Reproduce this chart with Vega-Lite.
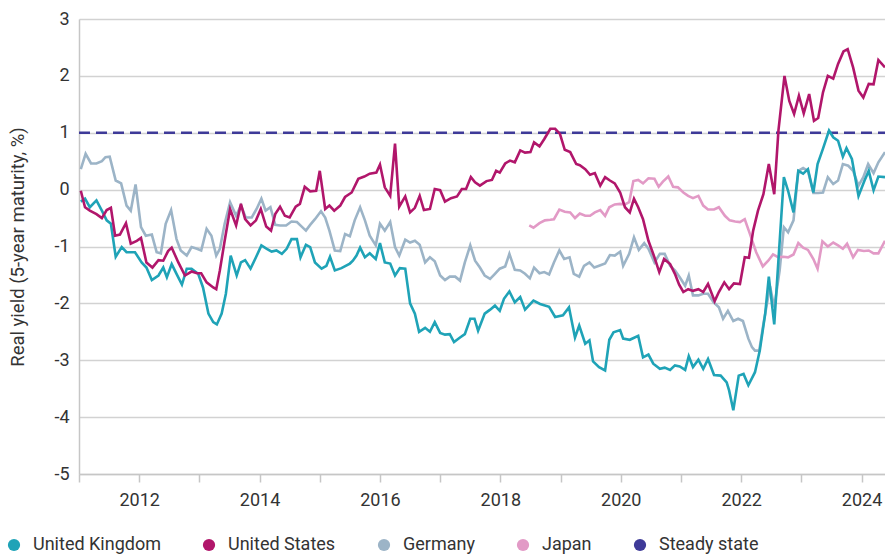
{
"$schema": "https://vega.github.io/schema/vega-lite/v6.json",
"width": 806, "height": 455,
"autosize": {"type": "none"},
"padding": {"left": 79, "top": 19, "right": 0, "bottom": 83},
"background": "white",
"config": {"font": "Roboto", "view": {"stroke": null}},
"datasets": {
"uk": [
{"t":2011.03,"v":-0.21},{"t":2011.10,"v":-0.16},{"t":2011.18,"v":-0.31},{"t":2011.29,"v":-0.19},{"t":2011.38,"v":-0.37},{"t":2011.46,"v":-0.54},{"t":2011.53,"v":-0.60},{"t":2011.61,"v":-1.18},{"t":2011.71,"v":-1.01},{"t":2011.79,"v":-1.10},{"t":2011.93,"v":-1.10},
{"t":2012.04,"v":-1.28},{"t":2012.12,"v":-1.37},{"t":2012.21,"v":-1.59},{"t":2012.32,"v":-1.51},{"t":2012.40,"v":-1.37},{"t":2012.46,"v":-1.54},{"t":2012.54,"v":-1.31},{"t":2012.62,"v":-1.48},{"t":2012.71,"v":-1.67},{"t":2012.79,"v":-1.39},{"t":2012.87,"v":-1.39},{"t":2012.98,"v":-1.48},
{"t":2013.06,"v":-1.72},{"t":2013.15,"v":-2.18},{"t":2013.23,"v":-2.33},{"t":2013.29,"v":-2.37},{"t":2013.37,"v":-2.18},{"t":2013.44,"v":-1.83},{"t":2013.52,"v":-1.16},{"t":2013.62,"v":-1.51},{"t":2013.69,"v":-1.28},{"t":2013.76,"v":-1.24},{"t":2013.85,"v":-1.39},{"t":2013.94,"v":-1.19},
{"t":2014.03,"v":-0.98},{"t":2014.12,"v":-1.04},{"t":2014.20,"v":-1.09},{"t":2014.28,"v":-1.07},{"t":2014.37,"v":-1.13},{"t":2014.45,"v":-1.04},{"t":2014.53,"v":-0.87},{"t":2014.62,"v":-0.87},{"t":2014.68,"v":-1.19},{"t":2014.77,"v":-0.97},{"t":2014.84,"v":-1.01},{"t":2014.92,"v":-1.28},
{"t":2015.03,"v":-1.39},{"t":2015.11,"v":-1.34},{"t":2015.17,"v":-1.18},{"t":2015.25,"v":-1.42},{"t":2015.36,"v":-1.38},{"t":2015.50,"v":-1.30},{"t":2015.55,"v":-1.25},{"t":2015.61,"v":-1.16},{"t":2015.67,"v":-1.02},{"t":2015.75,"v":-1.19},{"t":2015.83,"v":-1.12},{"t":2015.93,"v":-1.22},
{"t":2016.00,"v":-0.94},{"t":2016.08,"v":-1.28},{"t":2016.17,"v":-1.30},{"t":2016.25,"v":-1.51},{"t":2016.33,"v":-1.38},{"t":2016.42,"v":-1.39},{"t":2016.50,"v":-2.00},{"t":2016.58,"v":-2.18},{"t":2016.65,"v":-2.50},{"t":2016.75,"v":-2.43},{"t":2016.83,"v":-2.50},{"t":2016.91,"v":-2.33},
{"t":2017.00,"v":-2.52},{"t":2017.08,"v":-2.55},{"t":2017.16,"v":-2.54},{"t":2017.23,"v":-2.68},{"t":2017.33,"v":-2.60},{"t":2017.41,"v":-2.54},{"t":2017.50,"v":-2.27},{"t":2017.57,"v":-2.27},{"t":2017.63,"v":-2.48},{"t":2017.74,"v":-2.18},{"t":2017.83,"v":-2.11},{"t":2017.91,"v":-2.04},{"t":2017.99,"v":-2.13},
{"t":2018.06,"v":-1.92},{"t":2018.15,"v":-1.79},{"t":2018.24,"v":-1.98},{"t":2018.33,"v":-1.89},{"t":2018.41,"v":-2.11},{"t":2018.55,"v":-1.95},{"t":2018.66,"v":-2.01},{"t":2018.81,"v":-2.06},{"t":2018.91,"v":-2.24},
{"t":2019.04,"v":-2.21},{"t":2019.14,"v":-2.07},{"t":2019.24,"v":-2.60},{"t":2019.31,"v":-2.39},{"t":2019.41,"v":-2.71},{"t":2019.48,"v":-2.65},{"t":2019.54,"v":-3.02},{"t":2019.64,"v":-3.12},{"t":2019.74,"v":-3.18},{"t":2019.81,"v":-2.64},{"t":2019.88,"v":-2.51},{"t":2019.99,"v":-2.47},
{"t":2020.04,"v":-2.62},{"t":2020.15,"v":-2.64},{"t":2020.29,"v":-2.57},{"t":2020.37,"v":-2.95},{"t":2020.46,"v":-2.90},{"t":2020.54,"v":-3.06},{"t":2020.65,"v":-3.15},{"t":2020.73,"v":-3.13},{"t":2020.82,"v":-3.17},{"t":2020.90,"v":-3.09},{"t":2020.98,"v":-3.11},
{"t":2021.07,"v":-3.17},{"t":2021.13,"v":-2.93},{"t":2021.20,"v":-3.12},{"t":2021.29,"v":-2.99},{"t":2021.37,"v":-3.15},{"t":2021.45,"v":-2.98},{"t":2021.55,"v":-3.26},{"t":2021.66,"v":-3.27},{"t":2021.76,"v":-3.39},{"t":2021.80,"v":-3.53},{"t":2021.87,"v":-3.88},{"t":2021.96,"v":-3.27},
{"t":2022.04,"v":-3.24},{"t":2022.12,"v":-3.44},{"t":2022.23,"v":-3.21},{"t":2022.31,"v":-2.83},{"t":2022.40,"v":-2.18},{"t":2022.46,"v":-1.53},{"t":2022.55,"v":-2.37},{"t":2022.71,"v":0.22},{"t":2022.78,"v":-0.02},{"t":2022.87,"v":-0.40},{"t":2022.95,"v":0.33},
{"t":2023.03,"v":0.28},{"t":2023.11,"v":0.36},{"t":2023.20,"v":-0.05},{"t":2023.27,"v":0.45},{"t":2023.36,"v":0.72},{"t":2023.46,"v":1.04},{"t":2023.53,"v":0.92},{"t":2023.61,"v":0.86},{"t":2023.69,"v":0.58},{"t":2023.75,"v":0.73},{"t":2023.84,"v":0.54},{"t":2023.95,"v":-0.11},
{"t":2024.05,"v":0.16},{"t":2024.12,"v":0.33},{"t":2024.20,"v":-0.01},{"t":2024.28,"v":0.23},{"t":2024.39,"v":0.22}
],
"us": [
{"t":2011.03,"v":-0.02},{"t":2011.10,"v":-0.31},{"t":2011.18,"v":-0.37},{"t":2011.29,"v":-0.43},{"t":2011.38,"v":-0.50},{"t":2011.46,"v":-0.36},{"t":2011.53,"v":-0.32},{"t":2011.60,"v":-0.81},{"t":2011.68,"v":-0.79},{"t":2011.78,"v":-0.59},{"t":2011.86,"v":-0.95},{"t":2011.96,"v":-0.90},
{"t":2012.03,"v":-0.85},{"t":2012.12,"v":-1.28},{"t":2012.22,"v":-1.37},{"t":2012.32,"v":-1.24},{"t":2012.40,"v":-1.25},{"t":2012.48,"v":-1.08},{"t":2012.54,"v":-1.02},{"t":2012.65,"v":-1.28},{"t":2012.76,"v":-1.51},{"t":2012.87,"v":-1.44},{"t":2012.96,"v":-1.47},
{"t":2013.03,"v":-1.47},{"t":2013.12,"v":-1.63},{"t":2013.23,"v":-1.72},{"t":2013.28,"v":-1.75},{"t":2013.34,"v":-1.42},{"t":2013.42,"v":-0.90},{"t":2013.51,"v":-0.34},{"t":2013.61,"v":-0.63},{"t":2013.69,"v":-0.25},{"t":2013.76,"v":-0.52},{"t":2013.85,"v":-0.63},{"t":2013.94,"v":-0.54},
{"t":2014.02,"v":-0.34},{"t":2014.11,"v":-0.65},{"t":2014.19,"v":-0.72},{"t":2014.26,"v":-0.43},{"t":2014.34,"v":-0.30},{"t":2014.42,"v":-0.46},{"t":2014.50,"v":-0.49},{"t":2014.60,"v":-0.30},{"t":2014.67,"v":-0.25},{"t":2014.75,"v":0.05},{"t":2014.84,"v":-0.03},{"t":2014.94,"v":-0.02},
{"t":2015.00,"v":0.33},{"t":2015.09,"v":-0.34},{"t":2015.16,"v":-0.28},{"t":2015.24,"v":-0.37},{"t":2015.34,"v":-0.28},{"t":2015.42,"v":-0.13},{"t":2015.53,"v":-0.05},{"t":2015.64,"v":0.19},{"t":2015.74,"v":0.23},{"t":2015.83,"v":0.28},{"t":2015.94,"v":0.30},
{"t":2016.00,"v":0.44},{"t":2016.08,"v":0.04},{"t":2016.17,"v":-0.11},{"t":2016.25,"v":0.81},{"t":2016.32,"v":-0.30},{"t":2016.42,"v":-0.12},{"t":2016.50,"v":-0.40},{"t":2016.58,"v":-0.32},{"t":2016.66,"v":-0.11},{"t":2016.73,"v":-0.36},{"t":2016.83,"v":-0.34},{"t":2016.91,"v":0.01},
{"t":2017.00,"v":-0.01},{"t":2017.08,"v":-0.21},{"t":2017.18,"v":-0.15},{"t":2017.28,"v":-0.12},{"t":2017.36,"v":0.01},{"t":2017.43,"v":0.01},{"t":2017.51,"v":0.22},{"t":2017.58,"v":0.13},{"t":2017.66,"v":0.07},{"t":2017.77,"v":0.15},{"t":2017.86,"v":0.17},{"t":2017.93,"v":0.33},{"t":2017.99,"v":0.30},
{"t":2018.08,"v":0.46},{"t":2018.16,"v":0.51},{"t":2018.24,"v":0.48},{"t":2018.33,"v":0.69},{"t":2018.41,"v":0.65},{"t":2018.50,"v":0.66},{"t":2018.56,"v":0.83},{"t":2018.65,"v":0.76},{"t":2018.73,"v":0.89},{"t":2018.83,"v":1.07},{"t":2018.91,"v":1.07},{"t":2018.99,"v":0.98},
{"t":2019.07,"v":0.70},{"t":2019.16,"v":0.66},{"t":2019.26,"v":0.45},{"t":2019.32,"v":0.43},{"t":2019.41,"v":0.36},{"t":2019.49,"v":0.26},{"t":2019.57,"v":0.29},{"t":2019.66,"v":0.07},{"t":2019.74,"v":0.22},{"t":2019.82,"v":0.16},{"t":2019.90,"v":0.11},{"t":2019.99,"v":-0.05},
{"t":2020.07,"v":-0.31},{"t":2020.15,"v":-0.40},{"t":2020.22,"v":-0.16},{"t":2020.29,"v":-0.31},{"t":2020.37,"v":-0.52},{"t":2020.46,"v":-0.90},{"t":2020.56,"v":-1.19},{"t":2020.64,"v":-1.45},{"t":2020.72,"v":-1.22},{"t":2020.82,"v":-1.31},{"t":2020.90,"v":-1.48},{"t":2020.97,"v":-1.67},
{"t":2021.04,"v":-1.80},{"t":2021.12,"v":-1.75},{"t":2021.20,"v":-1.78},{"t":2021.29,"v":-1.75},{"t":2021.37,"v":-1.80},{"t":2021.45,"v":-1.66},{"t":2021.56,"v":-1.96},{"t":2021.63,"v":-1.80},{"t":2021.72,"v":-1.63},{"t":2021.80,"v":-1.75},{"t":2021.88,"v":-1.65},{"t":2021.98,"v":-1.66},
{"t":2022.06,"v":-1.19},{"t":2022.13,"v":-1.20},{"t":2022.20,"v":-0.72},{"t":2022.28,"v":-0.37},{"t":2022.37,"v":-0.08},{"t":2022.46,"v":0.45},{"t":2022.55,"v":-0.08},{"t":2022.62,"v":1.04},{"t":2022.72,"v":2.00},{"t":2022.80,"v":1.56},{"t":2022.88,"v":1.33},{"t":2022.96,"v":1.65},
{"t":2023.04,"v":1.34},{"t":2023.13,"v":1.68},{"t":2023.21,"v":1.21},{"t":2023.28,"v":1.26},{"t":2023.36,"v":1.71},{"t":2023.44,"v":2.00},{"t":2023.53,"v":1.95},{"t":2023.61,"v":2.21},{"t":2023.70,"v":2.43},{"t":2023.77,"v":2.47},{"t":2023.86,"v":2.15},{"t":2023.95,"v":1.74},
{"t":2024.03,"v":1.62},{"t":2024.12,"v":1.86},{"t":2024.20,"v":1.85},{"t":2024.28,"v":2.28},{"t":2024.39,"v":2.15}
],
"de": [
{"t":2011.03,"v":0.36},{"t":2011.11,"v":0.63},{"t":2011.20,"v":0.46},{"t":2011.29,"v":0.46},{"t":2011.38,"v":0.50},{"t":2011.44,"v":0.57},{"t":2011.51,"v":0.58},{"t":2011.61,"v":0.16},{"t":2011.70,"v":0.11},{"t":2011.79,"v":-0.28},{"t":2011.86,"v":-0.37},{"t":2011.94,"v":0.09},
{"t":2012.03,"v":-0.66},{"t":2012.11,"v":-0.81},{"t":2012.21,"v":-0.79},{"t":2012.29,"v":-1.10},{"t":2012.36,"v":-1.12},{"t":2012.44,"v":-0.60},{"t":2012.53,"v":-0.36},{"t":2012.62,"v":-0.87},{"t":2012.69,"v":-1.07},{"t":2012.79,"v":-1.16},{"t":2012.87,"v":-1.01},{"t":2012.96,"v":-1.04},
{"t":2013.03,"v":-1.07},{"t":2013.12,"v":-0.69},{"t":2013.20,"v":-0.81},{"t":2013.28,"v":-1.16},{"t":2013.34,"v":-1.04},{"t":2013.42,"v":-0.60},{"t":2013.51,"v":-0.22},{"t":2013.61,"v":-0.46},{"t":2013.69,"v":-0.28},{"t":2013.77,"v":-0.49},{"t":2013.87,"v":-0.49},{"t":2013.95,"v":-0.34},
{"t":2014.03,"v":-0.16},{"t":2014.10,"v":-0.37},{"t":2014.18,"v":-0.31},{"t":2014.26,"v":-0.62},{"t":2014.34,"v":-0.63},{"t":2014.44,"v":-0.63},{"t":2014.53,"v":-0.56},{"t":2014.62,"v":-0.57},{"t":2014.70,"v":-0.65},{"t":2014.77,"v":-0.72},{"t":2014.84,"v":-0.62},{"t":2014.92,"v":-0.52},
{"t":2015.02,"v":-0.38},{"t":2015.09,"v":-0.49},{"t":2015.16,"v":-0.72},{"t":2015.25,"v":-1.07},{"t":2015.34,"v":-1.08},{"t":2015.42,"v":-0.78},{"t":2015.50,"v":-0.82},{"t":2015.58,"v":-0.54},{"t":2015.67,"v":-0.31},{"t":2015.75,"v":-0.54},{"t":2015.83,"v":-0.81},{"t":2015.93,"v":-0.98},
{"t":2016.00,"v":-0.60},{"t":2016.08,"v":-0.72},{"t":2016.17,"v":-0.57},{"t":2016.25,"v":-1.01},{"t":2016.32,"v":-1.16},{"t":2016.42,"v":-0.88},{"t":2016.50,"v":-0.93},{"t":2016.58,"v":-0.90},{"t":2016.66,"v":-0.97},{"t":2016.75,"v":-1.28},{"t":2016.83,"v":-1.19},{"t":2016.91,"v":-1.26},
{"t":2017.00,"v":-1.51},{"t":2017.08,"v":-1.59},{"t":2017.16,"v":-1.53},{"t":2017.25,"v":-1.53},{"t":2017.33,"v":-1.60},{"t":2017.41,"v":-1.28},{"t":2017.50,"v":-0.98},{"t":2017.58,"v":-1.25},{"t":2017.66,"v":-1.37},{"t":2017.74,"v":-1.51},{"t":2017.83,"v":-1.57},{"t":2017.91,"v":-1.48},{"t":2017.99,"v":-1.39},
{"t":2018.08,"v":-1.35},{"t":2018.15,"v":-1.13},{"t":2018.24,"v":-1.41},{"t":2018.33,"v":-1.42},{"t":2018.41,"v":-1.48},{"t":2018.49,"v":-1.56},{"t":2018.56,"v":-1.37},{"t":2018.65,"v":-1.47},{"t":2018.73,"v":-1.45},{"t":2018.81,"v":-1.49},{"t":2018.89,"v":-1.28},{"t":2018.98,"v":-1.07},
{"t":2019.06,"v":-1.22},{"t":2019.15,"v":-1.19},{"t":2019.22,"v":-1.48},{"t":2019.31,"v":-1.53},{"t":2019.39,"v":-1.34},{"t":2019.48,"v":-1.28},{"t":2019.56,"v":-1.37},{"t":2019.64,"v":-1.34},{"t":2019.74,"v":-1.30},{"t":2019.82,"v":-1.15},{"t":2019.90,"v":-1.16},{"t":2019.99,"v":-1.09},
{"t":2020.04,"v":-1.34},{"t":2020.14,"v":-1.13},{"t":2020.22,"v":-0.84},{"t":2020.30,"v":-1.06},{"t":2020.39,"v":-0.94},{"t":2020.46,"v":-1.04},{"t":2020.56,"v":-1.28},{"t":2020.65,"v":-1.13},{"t":2020.73,"v":-1.13},{"t":2020.82,"v":-1.34},{"t":2020.90,"v":-1.42},{"t":2020.98,"v":-1.54},
{"t":2021.07,"v":-1.69},{"t":2021.13,"v":-1.51},{"t":2021.20,"v":-1.86},{"t":2021.29,"v":-1.86},{"t":2021.37,"v":-1.83},{"t":2021.45,"v":-1.83},{"t":2021.54,"v":-1.98},{"t":2021.63,"v":-2.07},{"t":2021.70,"v":-2.27},{"t":2021.78,"v":-2.13},{"t":2021.87,"v":-2.31},{"t":2021.95,"v":-2.27},
{"t":2022.03,"v":-2.31},{"t":2022.12,"v":-2.62},{"t":2022.18,"v":-2.77},{"t":2022.23,"v":-2.83},{"t":2022.30,"v":-2.83},{"t":2022.37,"v":-2.36},{"t":2022.48,"v":-1.70},{"t":2022.55,"v":-2.07},{"t":2022.64,"v":-1.42},{"t":2022.71,"v":-0.66},{"t":2022.78,"v":-0.75},{"t":2022.87,"v":-0.54},{"t":2022.95,"v":0.33},
{"t":2023.03,"v":0.38},{"t":2023.11,"v":0.33},{"t":2023.20,"v":-0.06},{"t":2023.28,"v":-0.06},{"t":2023.36,"v":-0.05},{"t":2023.44,"v":0.22},{"t":2023.53,"v":0.10},{"t":2023.61,"v":0.16},{"t":2023.69,"v":0.45},{"t":2023.78,"v":0.42},{"t":2023.86,"v":0.33},{"t":2023.95,"v":0.07},
{"t":2024.03,"v":0.22},{"t":2024.11,"v":0.45},{"t":2024.20,"v":0.29},{"t":2024.28,"v":0.48},{"t":2024.39,"v":0.66}
],
"jp": [
{"t":2018.48,"v":-0.63},{"t":2018.55,"v":-0.67},{"t":2018.65,"v":-0.59},{"t":2018.74,"v":-0.54},{"t":2018.83,"v":-0.53},{"t":2018.89,"v":-0.52},{"t":2018.98,"v":-0.35},
{"t":2019.07,"v":-0.39},{"t":2019.16,"v":-0.40},{"t":2019.24,"v":-0.50},{"t":2019.32,"v":-0.42},{"t":2019.41,"v":-0.46},{"t":2019.49,"v":-0.46},{"t":2019.57,"v":-0.40},{"t":2019.66,"v":-0.36},{"t":2019.74,"v":-0.46},{"t":2019.81,"v":-0.31},{"t":2019.90,"v":-0.26},{"t":2019.99,"v":-0.25},
{"t":2020.07,"v":-0.26},{"t":2020.14,"v":-0.22},{"t":2020.21,"v":0.15},{"t":2020.29,"v":0.17},{"t":2020.37,"v":0.11},{"t":2020.46,"v":0.20},{"t":2020.56,"v":0.19},{"t":2020.63,"v":0.05},{"t":2020.70,"v":0.14},{"t":2020.79,"v":0.23},{"t":2020.87,"v":0.05},{"t":2020.95,"v":0.04},
{"t":2021.04,"v":-0.05},{"t":2021.12,"v":-0.11},{"t":2021.20,"v":-0.15},{"t":2021.29,"v":-0.11},{"t":2021.37,"v":-0.28},{"t":2021.45,"v":-0.35},{"t":2021.55,"v":-0.35},{"t":2021.63,"v":-0.31},{"t":2021.73,"v":-0.46},{"t":2021.81,"v":-0.54},{"t":2021.90,"v":-0.56},{"t":2021.98,"v":-0.57},
{"t":2022.06,"v":-0.52},{"t":2022.14,"v":-0.76},{"t":2022.25,"v":-1.10},{"t":2022.36,"v":-1.35},{"t":2022.45,"v":-1.25},{"t":2022.53,"v":-1.14},{"t":2022.62,"v":-1.19},{"t":2022.70,"v":-1.18},{"t":2022.78,"v":-1.19},{"t":2022.87,"v":-1.14},{"t":2022.95,"v":-0.94},
{"t":2023.03,"v":-1.02},{"t":2023.11,"v":-1.06},{"t":2023.20,"v":-1.22},{"t":2023.27,"v":-1.39},{"t":2023.35,"v":-0.91},{"t":2023.44,"v":-1.00},{"t":2023.53,"v":-0.93},{"t":2023.61,"v":-0.98},{"t":2023.69,"v":-1.04},{"t":2023.76,"v":-0.95},{"t":2023.86,"v":-1.19},{"t":2023.94,"v":-1.06},
{"t":2024.04,"v":-1.08},{"t":2024.12,"v":-1.07},{"t":2024.20,"v":-1.12},{"t":2024.28,"v":-1.12},{"t":2024.39,"v":-0.90}
],
"ss": [{"t":2011.0,"v":1},{"t":2024.39,"v":1}]
},
"encoding": {
  "x": {"field": "t", "type": "quantitative",
    "scale": {"domain": [2011, 2024.39], "nice": false, "zero": false},
    "axis": {"title": null, "values": [2011,2012,2013,2014,2015,2016,2017,2018,2019,2020,2021,2022,2023,2024],
      "labelExpr": "datum.value % 2 == 0 ? '' + datum.value : ''",
      "grid": false, "domainColor": "#c6c6c6", "domainWidth": 1.5, "tickColor": "#c6c6c6", "tickWidth": 1.5, "tickSize": 8,
      "labelFontSize": 18, "labelColor": "#333333", "labelPadding": 9, "labelFlush": false}},
  "y": {"field": "v", "type": "quantitative",
    "scale": {"domain": [-5, 3], "nice": false},
    "axis": {"title": "Real yield (5-year maturity, %)", "values": [-5,-4,-3,-2,-1,0,1,2,3],
      "labelExpr": "'' + datum.value",
      "grid": true, "gridColor": "#d2d2d2", "gridWidth": 1.5, "domainColor": "#c6c6c6", "domainWidth": 1.5,
      "ticks": false, "labelPadding": 10, "labelFontSize": 18, "labelColor": "#333333",
      "titleFontSize": 18.5, "titleFontWeight": "normal", "titleColor": "#333333", "titlePadding": 26}},
  "color": {"field": "country", "type": "nominal",
    "scale": {"domain": ["United Kingdom", "United States", "Germany", "Japan", "Steady state"],
              "range": ["#1fa3b7", "#b1166b", "#9cb4c7", "#e29ac6", "#3e3a98"]},
    "legend": {"title": null, "orient": "none", "legendX": -74, "legendY": 517, "direction": "horizontal",
      "symbolType": "circle", "symbolSize": 150, "symbolStrokeWidth": 0, "labelFontSize": 18, "labelColor": "#333333",
      "labelOffset": 10, "columnPadding": 39,
      "encode": {"symbols": {"update": {"shape": {"value": "circle"}, "size": {"value": 150}, "fill": {"scale": "color", "field": "value"}, "stroke": {"value": "transparent"}, "strokeDash": {"value": [1, 0]}, "opacity": {"value": 1}}}}}}
},
"layer": [
  {"data": {"name": "ss"}, "transform": [{"calculate": "'Steady state'", "as": "country"}],
   "mark": {"type": "line", "strokeWidth": 2.6, "strokeDash": [11, 6]}},
  {"data": {"name": "de"}, "transform": [{"calculate": "'Germany'", "as": "country"}], "mark": {"type": "line", "strokeWidth": 2.6}},
  {"data": {"name": "jp"}, "transform": [{"calculate": "'Japan'", "as": "country"}], "mark": {"type": "line", "strokeWidth": 2.6}},
  {"data": {"name": "uk"}, "transform": [{"calculate": "'United Kingdom'", "as": "country"}], "mark": {"type": "line", "strokeWidth": 2.6}},
  {"data": {"name": "us"}, "transform": [{"calculate": "'United States'", "as": "country"}], "mark": {"type": "line", "strokeWidth": 2.6}}
]
}
